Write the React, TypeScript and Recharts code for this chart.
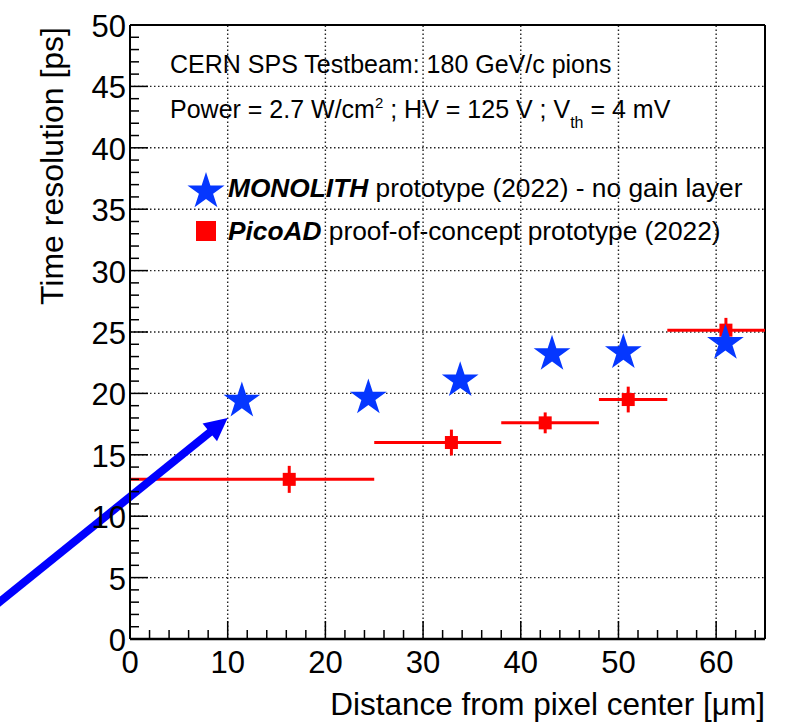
import React from 'react';
import { ScatterChart, Scatter, XAxis, YAxis, ErrorBar, ReferenceLine, Customized } from 'recharts';

const W = 795;
const H = 728;
const FONT = '"Liberation Sans", Arial, Helvetica, sans-serif';

// MONOLITH prototype (2022) - stars
const monolithX = [11.45, 24.4, 33.8, 43.2, 50.5, 60.95];
const monolithY = [19.4, 19.65, 21.05, 23.2, 23.35, 24.1];

// PicoAD proof-of-concept - squares with bin (x) and y errors
const picoX = [16.3, 32.9, 42.5, 51.0, 61.0];
const picoY = [13.0, 16.0, 17.6, 19.5, 25.15];
const picoBinLow = [0, 25, 38, 48, 55];
const picoBinHigh = [25, 38, 48, 55, 65];
const picoYErr = [1.1, 1.05, 0.85, 1.05, 1.0];

// axes
const xDomain = [0, 65];
const yDomain = [0, 50];
const xMajorTicks = [0, 10, 20, 30, 40, 50, 60];
const yMajorTicks = [0, 5, 10, 15, 20, 25, 30, 35, 40, 45, 50];
const xMinorTicks = Array.from({ length: 33 }, (_, i) => i * 2);
const yMinorTicks = Array.from({ length: 51 }, (_, i) => i);
const xGrid = [10, 20, 30, 40, 50, 60];
const yGrid = [5, 10, 15, 20, 25, 30, 35, 40, 45];

// arrow annotation (data coordinates)
const arrowFrom = { x: -14, y: 2.6 };
const arrowTo = { x: 10, y: 18 };

const monolithData = monolithX.map((x, i) => ({ x, y: monolithY[i] }));
const picoData = picoX.map((x, i) => ({
  x,
  y: picoY[i],
  ex: [x - picoBinLow[i], picoBinHigh[i] - x],
  ey: picoYErr[i],
}));

const STAR_BLUE = '#0537ff';
const RED = '#ff0000';

function starPoints(cx: number, cy: number, R: number) {
  const r = R * 0.382;
  const pts: string[] = [];
  for (let i = 0; i < 10; i++) {
    const a = (-90 + i * 36) * (Math.PI / 180);
    const rad = i % 2 === 0 ? R : r;
    pts.push(`${cx + rad * Math.cos(a)},${cy + rad * Math.sin(a)}`);
  }
  return pts.join(' ');
}

const StarShape = (props: any) => {
  const { cx, cy } = props;
  return <polygon points={starPoints(cx, cy, 19.3)} fill={STAR_BLUE} />;
};

const SquareShape = (props: any) => {
  const { cx, cy } = props;
  return <rect x={cx - 6.5} y={cy - 6.5} width={13} height={13} fill={RED} />;
};

const XTick = (props: any) => {
  const { x, y, payload } = props;
  const v = payload.value;
  const major = xMajorTicks.includes(v);
  return (
    <g>
      <line x1={x} y1={y} x2={x} y2={y - (major ? 18 : 9)} stroke="#000" strokeWidth={1.5} />
      {major && (
        <text x={x} y={y + 34} textAnchor="middle" fontSize={31} fontFamily={FONT} fill="#000">
          {v}
        </text>
      )}
    </g>
  );
};

const YTick = (props: any) => {
  const { x, y, payload } = props;
  const v = payload.value;
  const major = yMajorTicks.includes(v);
  return (
    <g>
      <line x1={x} y1={y} x2={x + (major ? 18 : 9)} y2={y} stroke="#000" strokeWidth={1.5} />
      {major && (
        <text x={x - 4} y={y + 12} textAnchor="end" fontSize={31} fontFamily={FONT} fill="#000">
          {v}
        </text>
      )}
    </g>
  );
};

const ArrowShape = (props: any) => {
  const { x1, y1, x2, y2 } = props;
  const dx = x2 - x1;
  const dy = y2 - y1;
  const len = Math.sqrt(dx * dx + dy * dy);
  const ux = dx / len;
  const uy = dy / len;
  const nx = -uy;
  const ny = ux;
  const headLen = 23;
  const headHalf = 11.5;
  const bx = x2 - ux * headLen;
  const by = y2 - uy * headLen;
  return (
    <g>
      <line x1={x1} y1={y1} x2={bx + ux * 2} y2={by + uy * 2} stroke="#0000ff" strokeWidth={8} />
      <polygon
        points={`${x2},${y2} ${bx + nx * headHalf},${by + ny * headHalf} ${bx - nx * headHalf},${by - ny * headHalf}`}
        fill="#0000ff"
      />
    </g>
  );
};

const Overlay = () => (
  <g fontFamily={FONT} fill="#000">
    <text x={170} y={73} fontSize={25}>CERN SPS Testbeam: 180 GeV/c pions</text>
    <text x={170} y={118} fontSize={25}>
      <tspan>{'Power = 2.7 W/cm'}</tspan>
      <tspan dy={-10} fontSize={15}>2</tspan>
      <tspan dy={10}>{' ; HV = 125 V ; V'}</tspan>
      <tspan dy={10} fontSize={16}>th</tspan>
      <tspan dy={-10}>{' = 4 mV'}</tspan>
    </text>
    <polygon points={starPoints(206, 191.5, 19.5)} fill={STAR_BLUE} />
    <text x={228} y={197} fontSize={26.3}>
      <tspan fontWeight="bold" fontStyle="italic">MONOLITH</tspan>
      <tspan>{' prototype (2022) - no gain layer'}</tspan>
    </text>
    <rect x={196} y={221} width={20} height={20} fill={RED} />
    <text x={228} y={240} fontSize={26.3}>
      <tspan fontWeight="bold" fontStyle="italic">PicoAD</tspan>
      <tspan>{' proof-of-concept prototype (2022)'}</tspan>
    </text>
    <text x={765} y={715} fontSize={31.5} textAnchor="end">Distance from pixel center [μm]</text>
    <text x={63} y={27} fontSize={32} textAnchor="end" transform="rotate(-90 63 27)">
      Time resolution [ps]
    </text>
  </g>
);

export default function App() {
  return (
    <div style={{ position: 'absolute', left: 0, top: 0, width: W, height: H, background: '#fff' }}>
      <ScatterChart width={W} height={H} margin={{ top: 25, right: 30, bottom: 29, left: 70 }}>
        <XAxis
          type="number"
          dataKey="x"
          domain={xDomain}
          allowDataOverflow
          ticks={xMinorTicks}
          interval={0}
          tick={<XTick />}
          tickLine={false}
          tickSize={0}
          tickMargin={0}
          height={60}
          axisLine={{ stroke: '#000', strokeWidth: 2.5 }}
        />
        <YAxis
          type="number"
          dataKey="y"
          domain={yDomain}
          allowDataOverflow
          ticks={yMinorTicks}
          interval={0}
          tick={<YTick />}
          tickLine={false}
          tickSize={0}
          tickMargin={0}
          width={60}
          axisLine={{ stroke: '#000', strokeWidth: 2 }}
        />
        {xGrid.map((v) => (
          <ReferenceLine key={'gx' + v} x={v} stroke="#222" strokeWidth={1.4} strokeDasharray="1.5 2.5" />
        ))}
        {yGrid.map((v) => (
          <ReferenceLine key={'gy' + v} y={v} stroke="#222" strokeWidth={1.4} strokeDasharray="1.5 2.5" />
        ))}
        <ReferenceLine y={50} stroke="#000" strokeWidth={2} />
        <ReferenceLine x={65} stroke="#000" strokeWidth={2} />
        <Scatter data={picoData} shape={<SquareShape />} isAnimationActive={false}>
          <ErrorBar dataKey="ex" direction="x" width={0} stroke={RED} strokeWidth={3} isAnimationActive={false} />
          <ErrorBar dataKey="ey" direction="y" width={0} stroke={RED} strokeWidth={3} isAnimationActive={false} />
        </Scatter>
        <Scatter data={monolithData} shape={<StarShape />} isAnimationActive={false} />
        <ReferenceLine
          segment={[arrowFrom, arrowTo]}
          ifOverflow="visible"
          stroke="#0000ff"
          shape={<ArrowShape />}
        />
        <Customized component={<Overlay />} />
      </ScatterChart>
    </div>
  );
}
